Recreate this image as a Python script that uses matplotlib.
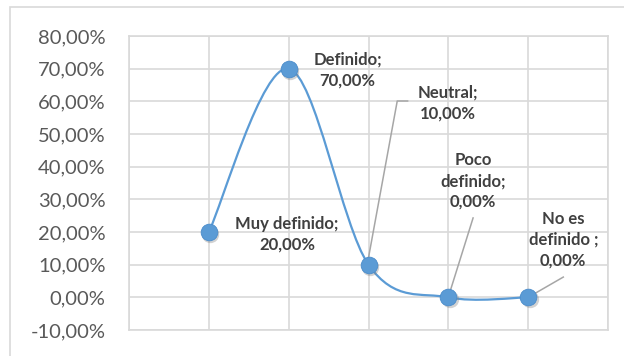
import numpy as np
import matplotlib.pyplot as plt
from matplotlib.path import Path
from matplotlib.patches import PathPatch, Rectangle
from matplotlib.ticker import FuncFormatter

# categorías y porcentajes
categorias = ["Muy definido", "Definido", "Neutral", "Poco definido", "No es definido "]
valores = [20.0, 70.0, 10.0, 0.0, 0.0]
etiquetas = ["Muy definido;\n20,00%", "Definido;\n70,00%", "Neutral;\n10,00%",
             "Poco\ndefinido;\n0,00%", "No es\ndefinido ;\n0,00%"]

azul = "#5B9BD5"
gris = "#D9D9D9"

fig = plt.figure(figsize=(6.24, 3.56), dpi=100)
ax = fig.add_axes([129 / 624, 26 / 356, 479 / 624, 294 / 356])

# borde exterior del gráfico
fig.patches.append(Rectangle((10 / 624, -0.1), 1.2, (356 - 7) / 356 + 0.1,
                             transform=fig.transFigure, fill=False,
                             edgecolor=gris, lw=1.2))

x = np.arange(1, len(valores) + 1)
y = np.array(valores)

# curva suavizada (bezier tipo catmull-rom, como la línea suavizada de excel)
pts = np.column_stack([x, y])
verts = [tuple(pts[0])]
codes = [Path.MOVETO]
for i in range(len(pts) - 1):
    p0 = pts[i - 1] if i > 0 else pts[i]
    p1 = pts[i]
    p2 = pts[i + 1]
    p3 = pts[i + 2] if i + 2 < len(pts) else pts[i + 1]
    c1 = p1 + (p2 - p0) / 6
    c2 = p2 - (p3 - p1) / 6
    verts += [tuple(c1), tuple(c2), tuple(p2)]
    codes += [Path.CURVE4] * 3
ax.add_patch(PathPatch(Path(verts, codes), fill=False, edgecolor=azul, lw=1.6, zorder=3))

# sombra y marcadores
ax.plot(x + 0.02, y - 0.6, "o", ms=12.5, color="#808080", alpha=0.35, mec="none", zorder=3.5)
ax.plot(x, y, "o", ms=12, color=azul, mec="#4A8CCB", mew=0.6, zorder=4)

ax.set_xlim(0, 6)
ax.set_ylim(-10, 80)
ax.set_xticks(range(0, 7))
ax.set_yticks(range(-10, 81, 10))
ax.yaxis.set_major_formatter(FuncFormatter(lambda v, p: f"{v:.2f}%".replace(".", ",")))
ax.tick_params(axis="x", length=0, labelbottom=False)
ax.tick_params(axis="y", length=0, pad=17, labelsize=14.5, labelcolor="#595959")
for t in ax.get_yticklabels():
    t.set_fontfamily("Lato")
ax.grid(True, color=gris, lw=1.2)
ax.set_axisbelow(True)
for s in ax.spines.values():
    s.set_color(gris)
    s.set_linewidth(1.2)

# etiquetas de datos
estilo = dict(fontsize=12, fontweight="bold", color="#404040", family="Lato",
              ha="center", va="center", linespacing=1.35)
# posiciones en coordenadas de datos
pos = [(1.98, 19.4), (2.74, 69.6), (4.0, 59.5), (4.31, 35.6), (5.44, 17.6)]
for (tx, ty), txt in zip(pos, etiquetas):
    ax.text(tx, ty, txt, zorder=5, **estilo)

# líneas guía
guia = dict(color="#A6A6A6", lw=1.1, zorder=3.8)
ax.plot([2.99, 3.36, 3.49], [10.8, 60.1, 60.1], **guia)
ax.plot([4.0, 4.31], [0.1, 24.3], **guia)
ax.plot([5.0, 5.44], [0.0, 6.2], **guia)

fig.savefig("out.png", dpi=100)
